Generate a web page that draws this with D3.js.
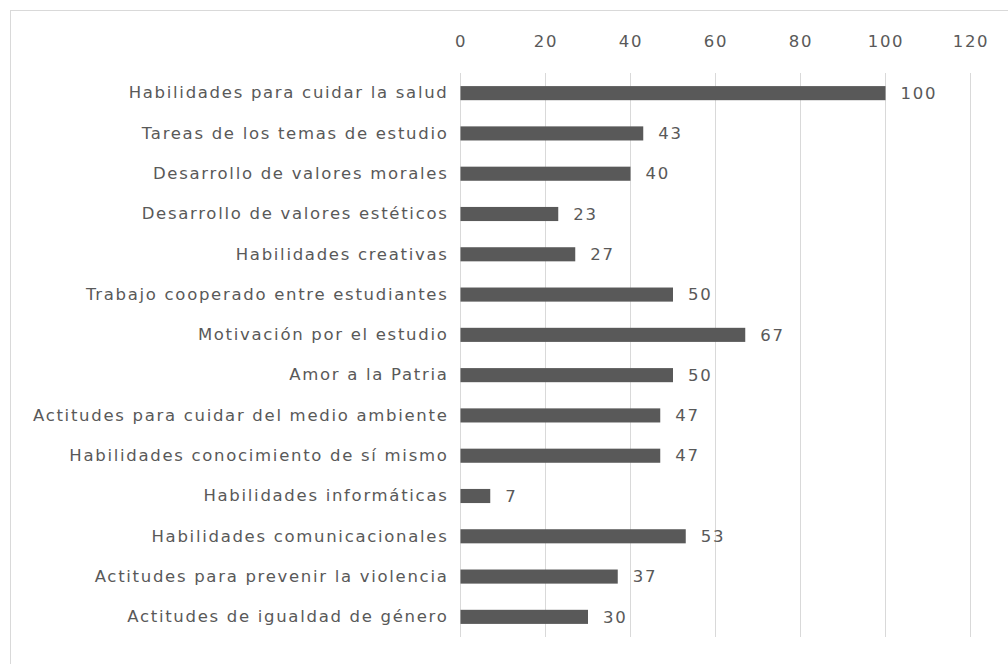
<!DOCTYPE html>
<html>
<head>
<meta charset="utf-8">
<script src="https://cdn.jsdelivr.net/npm/d3@7"></script>
<style>
  body { margin: 0; background: #fff; }
  svg text { font-family: "DejaVu Sans", sans-serif; fill: #595959; letter-spacing: 1.7px; }
</style>
</head>
<body>
<div id="chart"></div>
<script>
// categories, top to bottom as drawn
var categories = [
  "Habilidades para cuidar la salud",
  "Tareas de los temas de estudio",
  "Desarrollo de valores morales",
  "Desarrollo de valores estéticos",
  "Habilidades creativas",
  "Trabajo cooperado entre estudiantes",
  "Motivación por el estudio",
  "Amor a la Patria",
  "Actitudes para cuidar del medio ambiente",
  "Habilidades conocimiento de sí mismo",
  "Habilidades informáticas",
  "Habilidades comunicacionales",
  "Actitudes para prevenir la violencia",
  "Actitudes de igualdad de género"
];
var values = [100, 43, 40, 23, 27, 50, 67, 50, 47, 47, 7, 53, 37, 30];
var ticks = [0, 20, 40, 60, 80, 100, 120];

var W = 1008, H = 664;
var margin = {top: 73, left: 460.5, right: 37.5, bottom: 27};
var fontSize = 16.5;

var svg = d3.select("#chart").append("svg")
  .attr("width", W)
  .attr("height", H);

// chart frame
svg.append("rect")
  .attr("x", 10.5).attr("y", 10.5)
  .attr("width", W + 20).attr("height", H + 20)
  .attr("fill", "none")
  .attr("stroke", "#d9d9d9");

var x = d3.scaleLinear().domain([0, 120]).range([margin.left, W - margin.right]);
var y = d3.scaleBand().domain(categories).range([margin.top, H - margin.bottom]).paddingInner(0.65).paddingOuter(0.325);

// gridlines
svg.append("g").selectAll("line").data(ticks).enter().append("line")
  .attr("x1", d => x(d)).attr("x2", d => x(d))
  .attr("y1", margin.top).attr("y2", H - margin.bottom)
  .attr("stroke", "#d9d9d9").attr("stroke-width", 1);

// top axis labels
var xAxis = d3.axisTop(x).tickValues(ticks).tickSize(0).tickPadding(0);
var ax = svg.append("g").attr("transform", "translate(0,47)").call(xAxis);
ax.select(".domain").remove();
ax.selectAll("text").attr("font-size", fontSize).attr("font-family", null).attr("fill", "#595959");

// category labels
var yAxis = d3.axisLeft(y).tickSize(0).tickPadding(12);
var ay = svg.append("g").attr("transform", "translate(" + margin.left + ",0)").call(yAxis);
ay.select(".domain").remove();
ay.selectAll("text").attr("font-size", fontSize).attr("font-family", null).attr("fill", "#595959");

// bars
svg.append("g").selectAll("rect").data(values).enter().append("rect")
  .attr("x", x(0))
  .attr("y", (d, i) => y(categories[i]))
  .attr("width", d => x(d) - x(0))
  .attr("height", y.bandwidth())
  .attr("fill", "#595959");

// value labels
svg.append("g").selectAll("text").data(values).enter().append("text")
  .attr("x", d => x(d) + 15)
  .attr("y", (d, i) => y(categories[i]) + y.bandwidth() / 2)
  .attr("dy", "0.35em")
  .attr("font-size", fontSize)
  .text(d => d);
</script>
</body>
</html>
